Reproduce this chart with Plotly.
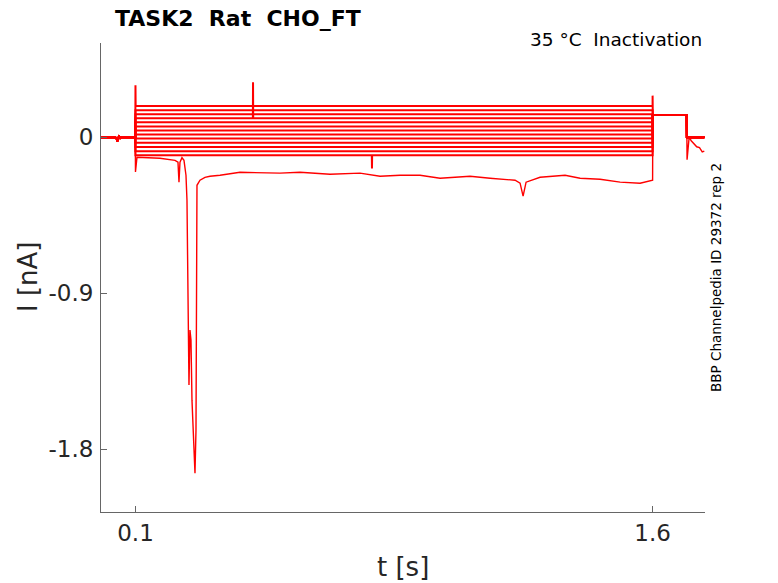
import plotly.graph_objects as go

# ---------------- data ----------------
# holding-current levels of the 13 "band" sweeps during the 0.1-1.6 s pulse (nA)
band_levels = [0.180, 0.156, 0.133, 0.110, 0.086, 0.062, 0.039, 0.016,
               -0.007, -0.031, -0.056, -0.081, -0.104]
# pre-pulse baseline (shared by all sweeps)
pre_t = [0.000, 0.040, 0.045, 0.048, 0.052, 0.056, 0.060, 0.0995]
pre_i = [0.000, 0.000, -0.006, -0.022, 0.004, -0.004, 0.000, 0.000]
# post-pulse level (1.6-1.7 s) and final level
post_level = 0.128
end_level = 0.0
t_on, t_off, t_post, t_end = 0.1, 1.6, 1.699, 1.75

# sweep with the large inward current
dip_t = [0.1000, 0.1044, 0.1710, 0.2146, 0.2233, 0.2262, 0.2291, 0.2349, 0.2407,
         0.2465, 0.2494, 0.2523, 0.2552, 0.2581, 0.2610, 0.2639, 0.2668, 0.2697,
         0.2726, 0.2755, 0.2784, 0.2871, 0.3016, 0.3162, 0.3452, 0.4032, 0.4612,
         0.5192, 0.5773, 0.6643, 0.7513, 0.8094, 0.8674, 0.9255, 0.9835, 1.0415,
         1.0705, 1.1286, 1.1576, 1.2011, 1.2156, 1.2243, 1.2330, 1.2736, 1.3461,
         1.3897, 1.4477, 1.5057, 1.5637, 1.5928, 1.5990]
dip_i = [-0.200, -0.115, -0.121, -0.133, -0.144, -0.259, -0.144, -0.118, -0.133,
         -0.219, -0.363, -1.112, -1.429, -1.112, -1.170, -1.516, -1.660, -1.746,
         -1.937, -1.689, -0.277, -0.248, -0.231, -0.225, -0.219, -0.202, -0.205,
         -0.207, -0.202, -0.213, -0.207, -0.225, -0.219, -0.219, -0.236, -0.231,
         -0.225, -0.236, -0.242, -0.248, -0.265, -0.340, -0.259, -0.231, -0.219,
         -0.236, -0.242, -0.259, -0.265, -0.248, -0.248]
dip_tail_t = [1.700, 1.706, 1.712, 1.720, 1.728, 1.736, 1.744, 1.750]
dip_tail_i = [-0.130, 0.000, -0.020, -0.035, -0.055, -0.060, -0.085, -0.080]

# transient artefacts: (sweep index, time, peak current)
artefacts = [(0, 0.1000, 0.300), (3, 0.4410, 0.317), (12, 0.7860, -0.180),
             (0, 1.6000, 0.240)]

x_ticks = [0.1, 1.6]
x_ticktext = ["0.1", "1.6"]
y_ticks = [0, -0.9, -1.8]
y_ticktext = ["0", "-0.9", "-1.8"]

RED = "#ff0000"
FONT = "DejaVu Sans"
TXT = "#262626"

fig = go.Figure()

def sweep(level, k):
    t = list(pre_t) + [t_on]
    i = list(pre_i) + [level]
    arts = sorted([a for a in artefacts if a[0] == k and a[1] < t_off], key=lambda a: a[1])
    for _, ta, pa in arts:
        if ta <= t_on:
            i[-1] = pa
            t += [t_on + 0.0005]
            i += [level]
        else:
            t += [ta - 0.0005, ta, ta + 0.0005]
            i += [level, pa, level]
    t += [t_off]
    i += [level]
    peak_off = [a[2] for a in artefacts if a[0] == k and a[1] == t_off]
    if peak_off:
        t += [t_off]
        i += [peak_off[0]]
    t += [t_off + 0.0005, t_post, t_post + 0.0005, t_end]
    i += [post_level, post_level, end_level, end_level]
    return t, i

for k, lv in enumerate(band_levels):
    t, i = sweep(lv, k)
    fig.add_trace(go.Scatter(x=t, y=i, mode="lines",
                             line=dict(color=RED, width=2.0), hoverinfo="skip",
                             showlegend=False))

dt = list(pre_t) + dip_t + [t_off, t_off + 0.0005, t_post] + dip_tail_t
di = list(pre_i) + dip_i + [dip_i[-1], post_level, post_level] + dip_tail_i
fig.add_trace(go.Scatter(x=dt, y=di, mode="lines",
                         line=dict(color=RED, width=1.4), hoverinfo="skip",
                         showlegend=False))

# page has an 8px body margin: figure spans page px 8..778 x 8..583
OFF = 8
W, H = 778 - OFF, 583 - OFF
L, T = 101 - OFF, 43 - OFF
R = W - (705 - OFF)
B = H - (512 - OFF)
pw, ph = W - L - R, H - T - B

def px(xp):  # page pixel -> paper x
    return (xp - OFF - L) / pw

def py(yp):  # page pixel -> paper y
    return (H - B - (yp - OFF)) / ph

axis_common = dict(showline=True, linecolor="#666666", linewidth=1,
                   ticks="inside", ticklen=6, tickcolor="#666666",
                   showgrid=False, zeroline=False, mirror=False,
                   tickfont=dict(family=FONT, size=23, color=TXT))

fig.update_layout(
    width=W, height=H,
    margin=dict(l=L, r=R, t=T, b=B, pad=0),
    paper_bgcolor="white", plot_bgcolor="white",
    xaxis=dict(range=[0, 1.752], tickvals=x_ticks, ticktext=x_ticktext, **axis_common),
    yaxis=dict(range=[-2.161, 0.5435], tickvals=y_ticks, ticktext=y_ticktext,
               ticklabelstandoff=2, **axis_common),
    annotations=[
        dict(text="<b>TASK2  Rat  CHO_FT</b>", xref="paper", yref="paper",
             x=px(113), y=py(18), xanchor="left", yanchor="middle", showarrow=False,
             font=dict(family=FONT, size=22, color="black")),
        dict(text="35 °C  Inactivation", xref="paper", yref="paper",
             x=px(704), y=py(40), xanchor="right", yanchor="middle", showarrow=False,
             font=dict(family=FONT, size=18.5, color="black")),
        dict(text="BBP Channelpedia ID 29372 rep 2", xref="paper", yref="paper",
             x=px(716), y=py(278), xanchor="center", yanchor="middle", showarrow=False,
             textangle=-90, font=dict(family=FONT, size=13.5, color="black")),
        dict(text="t [s]", xref="paper", yref="paper",
             x=0.5, y=py(567), xanchor="center", yanchor="middle", showarrow=False,
             font=dict(family=FONT, size=26, color=TXT)),
        dict(text="I [nA]", xref="paper", yref="paper",
             x=px(28), y=py(277), xanchor="center", yanchor="middle", showarrow=False,
             textangle=-90, font=dict(family=FONT, size=26, color=TXT)),
    ],
)

fig.write_html("out.html")
